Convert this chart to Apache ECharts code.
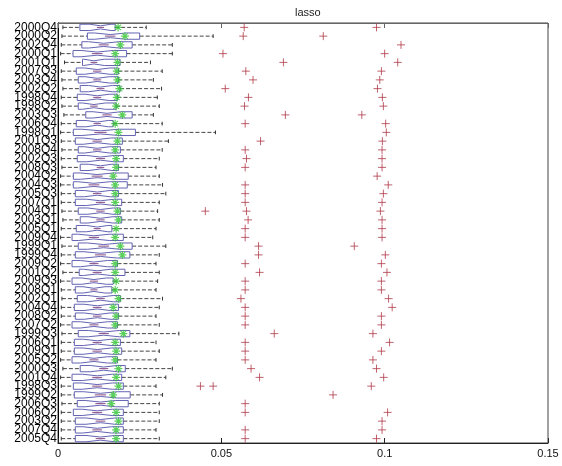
<!DOCTYPE html>
<html><head><meta charset="utf-8">
<script src="https://cdn.jsdelivr.net/npm/echarts@6/dist/echarts.min.js"></script>
<style>html,body{margin:0;padding:0;background:#fff}#c{width:562px;height:466px}</style>
</head><body><div id="c"></div>
<script>
const categories = ['2000Q4','2000Q2','2002Q4','2000Q1','2001Q1','2007Q3','2003Q4','2002Q2','1998Q4','1998Q2','2003Q3','2006Q4','1998Q1','2001Q3','2008Q4','2002Q3','2008Q3','2004Q2','2004Q3','2005Q3','2007Q1','2004Q1','2003Q1','2005Q1','2009Q4','1999Q1','1999Q4','2009Q2','2001Q2','2009Q3','2008Q1','2002Q1','2004Q4','2008Q2','2007Q2','1999Q3','2006Q1','2009Q1','2005Q2','2000Q3','2001Q4','1998Q3','1999Q2','2006Q3','2006Q2','2003Q2','2007Q4','2005Q4'];
const whiskerLow = [0.0015,0.0012,0.0010,0.0008,0.0020,0.0010,0.0012,0.0015,0.0010,0.0012,0.0018,0.0010,0.0008,0.0010,0.0012,0.0010,0.0012,0.0008,0.0008,0.0010,0.0010,0.0012,0.0015,0.0010,0.0008,0.0012,0.0010,0.0008,0.0015,0.0008,0.0010,0.0012,0.0010,0.0010,0.0008,0.0012,0.0010,0.0010,0.0008,0.0015,0.0008,0.0010,0.0010,0.0012,0.0010,0.0010,0.0010,0.0010];
const q1 = [0.0067,0.0090,0.0073,0.0046,0.0075,0.0056,0.0062,0.0068,0.0059,0.0062,0.0085,0.0056,0.0047,0.0053,0.0062,0.0059,0.0068,0.0047,0.0047,0.0053,0.0053,0.0062,0.0068,0.0056,0.0043,0.0062,0.0053,0.0043,0.0065,0.0043,0.0053,0.0059,0.0050,0.0053,0.0043,0.0062,0.0050,0.0050,0.0043,0.0068,0.0043,0.0047,0.0050,0.0059,0.0047,0.0053,0.0053,0.0053];
const median = [0.0130,0.0160,0.0140,0.0120,0.0110,0.0120,0.0120,0.0130,0.0120,0.0110,0.0150,0.0120,0.0130,0.0120,0.0120,0.0130,0.0130,0.0120,0.0110,0.0120,0.0130,0.0130,0.0130,0.0120,0.0110,0.0140,0.0130,0.0110,0.0120,0.0110,0.0110,0.0130,0.0120,0.0120,0.0110,0.0140,0.0120,0.0120,0.0110,0.0140,0.0120,0.0120,0.0130,0.0130,0.0120,0.0130,0.0120,0.0130];
const q3 = [0.0175,0.0250,0.0227,0.0210,0.0190,0.0185,0.0185,0.0190,0.0182,0.0178,0.0227,0.0169,0.0237,0.0197,0.0191,0.0200,0.0185,0.0215,0.0212,0.0185,0.0195,0.0191,0.0195,0.0165,0.0200,0.0227,0.0220,0.0182,0.0205,0.0169,0.0165,0.0191,0.0185,0.0185,0.0182,0.0220,0.0191,0.0195,0.0182,0.0206,0.0195,0.0200,0.0221,0.0215,0.0200,0.0200,0.0200,0.0200];
const whiskerHigh = [0.0270,0.0475,0.0350,0.0350,0.0283,0.0319,0.0292,0.0317,0.0304,0.0310,0.0292,0.0319,0.0482,0.0338,0.0319,0.0310,0.0300,0.0310,0.0320,0.0330,0.0310,0.0305,0.0310,0.0300,0.0290,0.0330,0.0310,0.0300,0.0310,0.0305,0.0300,0.0320,0.0310,0.0300,0.0310,0.0370,0.0300,0.0310,0.0300,0.0350,0.0330,0.0300,0.0320,0.0310,0.0310,0.0310,0.0300,0.0310];
const meanValue = [0.0184,0.0205,0.0191,0.0175,0.0182,0.0180,0.0182,0.0188,0.0180,0.0178,0.0197,0.0175,0.0185,0.0182,0.0175,0.0178,0.0178,0.0169,0.0175,0.0175,0.0175,0.0182,0.0185,0.0178,0.0175,0.0191,0.0197,0.0175,0.0175,0.0178,0.0175,0.0185,0.0169,0.0178,0.0175,0.0200,0.0175,0.0178,0.0175,0.0185,0.0178,0.0185,0.0169,0.0163,0.0178,0.0185,0.0178,0.0178];
const outliers = [
  [0.0570,0.0975],[0.0567,0.0812],[0.1050],[0.0505,0.1000],[0.0690,0.1040],
  [0.0575,0.0990],[0.0597,0.0985],[0.0512,0.0978],[0.0583,0.0993],[0.0571,0.0996],
  [0.0696,0.0930],[0.0573,0.1003],[0.1005],[0.0620,0.0993],[0.0573,0.0992],
  [0.0577,0.0992],[0.0573,0.0992],[0.0977],[0.0573,0.1011],[0.0573,0.0996],
  [0.0573,0.0992],[0.0451,0.0577,0.0987],[0.0582,0.0992],[0.0573,0.0992],[0.0573,0.0992],
  [0.0614,0.0907],[0.0614,0.1002],[0.0573,0.0990],[0.0617,0.1007],[0.0573,0.0990],
  [0.0573,0.0990],[0.0560,0.1012],[0.0573,0.1023],[0.0573,0.0990],[0.0573,0.0990],
  [0.0662,0.0964],[0.0573,0.1015],[0.0573,0.0990],[0.0573,0.0964],[0.0591,0.0975],
  [0.0617,0.0997],[0.0436,0.0475,0.0959],[0.0842],[0.0573],[0.0573,0.1009],
  [0.0992],[0.0573,0.0992],[0.0573,0.0975]
];
const xTicks = {min: 0, max: 0.15, interval: 0.05};

const boxData = categories.map((c, i) => [i, whiskerLow[i], q1[i], median[i], q3[i], whiskerHigh[i]]);
const meanData = categories.map((c, i) => [meanValue[i], i]);
const outlierData = [];
outliers.forEach((arr, i) => arr.forEach(v => outlierData.push([v, i])));

function renderBox(params, api) {
  const idx = api.value(0);
  const lo = api.value(1), a = api.value(2), m = api.value(3), b = api.value(4), hi = api.value(5);
  const band = api.size([0, 1])[1];
  const h = band * 0.36;
  const pLo = api.coord([lo, idx]), pA = api.coord([a, idx]), pM = api.coord([m, idx]), pB = api.coord([b, idx]), pHi = api.coord([hi, idx]);
  const y = pM[1];
  const nw = Math.min((pB[0] - pA[0]) * 0.3, Math.min(pM[0] - pA[0], pB[0] - pM[0]) * 0.9);
  const nL = pM[0] - nw, nR = pM[0] + nw;
  const blue = '#6464b4';
  const dash = {stroke: '#444', lineWidth: 1, lineDash: [4, 2]};
  return {type: 'group', children: [
    {type: 'line', shape: {x1: pLo[0], y1: y, x2: pA[0], y2: y}, style: dash},
    {type: 'line', shape: {x1: pB[0], y1: y, x2: pHi[0], y2: y}, style: dash},
    {type: 'line', shape: {x1: pLo[0], y1: y - h * 0.6, x2: pLo[0], y2: y + h * 0.6}, style: {stroke: '#333', lineWidth: 1}},
    {type: 'line', shape: {x1: pHi[0], y1: y - h * 0.6, x2: pHi[0], y2: y + h * 0.6}, style: {stroke: '#333', lineWidth: 1}},
    {type: 'polygon', shape: {points: [
      [pA[0], y - h], [nL, y - h], [pM[0], y - h / 2], [nR, y - h], [pB[0], y - h],
      [pB[0], y + h], [nR, y + h], [pM[0], y + h / 2], [nL, y + h], [pA[0], y + h]
    ]}, style: {fill: 'none', stroke: blue, lineWidth: 1}},
    {type: 'line', shape: {x1: pM[0] - nw / 3, y1: y, x2: pM[0] + nw / 3, y2: y}, style: {stroke: '#8a4a80', lineWidth: 1}}
  ]};
}

const chart = echarts.init(document.getElementById('c'), null, {renderer: 'canvas'});
chart.setOption({
  animation: false,
  backgroundColor: '#fff',
  textStyle: {fontFamily: 'Liberation Sans, Arial, sans-serif'},
  title: {text: 'lasso', left: 290, top: 2, textStyle: {fontSize: 11, fontWeight: 'normal', color: '#222'}},
  grid: {left: 58, right: 14, top: 23, bottom: 23, show: true, borderColor: '#444', borderWidth: 1, containLabel: false},
  xAxis: [
    {type: 'value', min: xTicks.min, max: xTicks.max, interval: xTicks.interval, position: 'bottom',
     axisLine: {show: true, lineStyle: {color: '#222'}}, axisTick: {show: true, inside: true, length: 5, lineStyle: {color: '#222'}},
     axisLabel: {fontSize: 11, color: '#111', margin: 5}, splitLine: {show: false}},
    {type: 'value', min: xTicks.min, max: xTicks.max, interval: xTicks.interval, position: 'top',
     axisLine: {show: true, lineStyle: {color: '#666'}}, axisTick: {show: true, inside: true, length: 5, lineStyle: {color: '#666'}},
     axisLabel: {show: false}, splitLine: {show: false}}
  ],
  yAxis: {type: 'category', data: categories, inverse: true, boundaryGap: true,
    axisLine: {show: true, lineStyle: {color: '#000'}}, axisTick: {show: false},
    axisLabel: {interval: 0, fontSize: 12, color: '#000', margin: 1}, splitLine: {show: false}},
  series: [
    {type: 'custom', renderItem: renderBox, data: boxData, encode: {x: [1, 2, 3, 4, 5], y: 0}, z: 2},
    {type: 'scatter', data: outlierData, symbol: 'path://M0,5L10,5M5,0L5,10', symbolSize: 8,
     itemStyle: {color: 'none', borderColor: '#b03a48', borderWidth: 1}, z: 3},
    {type: 'scatter', data: meanData, symbol: 'path://M5,0L5,10M0,5L10,5M1.5,1.5L8.5,8.5M8.5,1.5L1.5,8.5', symbolSize: 8,
     itemStyle: {color: 'none', borderColor: '#33c433', borderWidth: 1.2}, z: 4}
  ]
});
</script></body></html>
